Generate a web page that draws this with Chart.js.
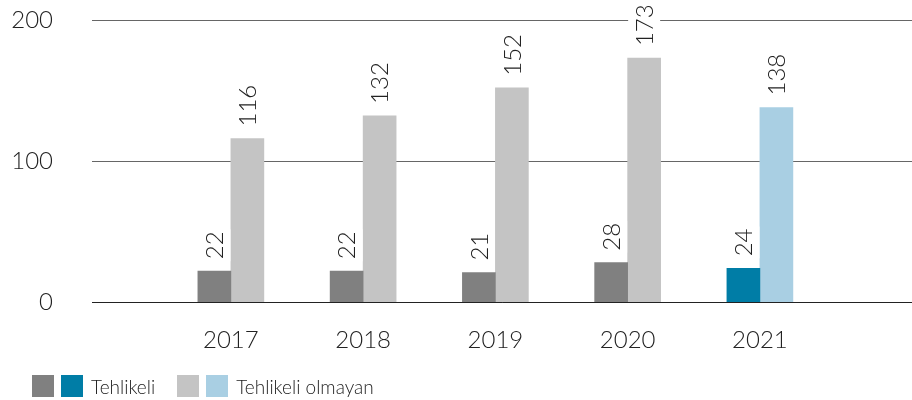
<!DOCTYPE html>
<html>
<head>
<meta charset="utf-8">
<script src="https://cdn.jsdelivr.net/npm/chart.js@4.4.1/dist/chart.umd.min.js"></script>
<style>
	body { margin: 0; background: #fff; }
	#wrap { position: relative; width: 912px; height: 400px; }
	.legend { position: absolute; top: 375px; left: 32px; font-family: Lato, sans-serif; font-weight: 300; font-size: 19px; color: #222; display: flex; align-items: center; height: 22px; }
	.sw { display: inline-block; width: 22px; height: 22px; margin-right: 7px; }
	.lbl { margin-right: 22px; margin-left: 1px; }
</style>
</head>
<body>
<div id="wrap">
	<canvas id="wasteChart" width="912" height="400"></canvas>
	<div class="legend">
		<span class="sw" style="background:#808080"></span><span class="sw" style="background:#007da6"></span><span class="lbl">Tehlikeli</span>
		<span class="sw" style="background:#c4c4c4"></span><span class="sw" style="background:#a9cfe3"></span><span class="lbl">Tehlikeli olmayan</span>
	</div>
</div>

<script>
	// values
	var years = [2017, 2018, 2019, 2020, 2021]
	var hazardous = [22, 22, 21, 28, 24]
	var nonHazardous = [116, 132, 152, 173, 138]
	var yTicks = [0, 100, 200]

	var darkColors = years.map(function (y) { return y == 2021 ? '#007da6' : '#808080' })
	var lightColors = years.map(function (y) { return y == 2021 ? '#a9cfe3' : '#c4c4c4' })

	function toPoints(arr) {
		return arr.map(function (v, i) { return { x: years[i], y: v } })
	}

	// rotated value labels above bars, white box behind so gridline is cut
	var valueLabels = {
		id: 'valueLabels',
		afterDatasetsDraw: function (chart) {
			var ctx = chart.ctx
			ctx.save()
			ctx.font = '300 24px Lato, sans-serif'
			chart.data.datasets.forEach(function (ds, di) {
				var meta = chart.getDatasetMeta(di)
				meta.data.forEach(function (bar, i) {
					var txt = String(ds.data[i].y)
					var w = ctx.measureText(txt).width
					ctx.save()
					ctx.translate(bar.x, bar.y - 12)
					ctx.rotate(-Math.PI / 2)
					ctx.fillStyle = '#fff'
					ctx.fillRect(-2, -16, w + 4, 32)
					ctx.fillStyle = '#222'
					ctx.textAlign = 'left'
					ctx.textBaseline = 'middle'
					ctx.fillText(txt, 0, 1)
					ctx.restore()
				})
			})
			ctx.restore()
		}
	}

	var cfg = {
		type: 'bar',
		data: {
			datasets: [
				{ label: 'Tehlikeli', data: toPoints(hazardous), backgroundColor: darkColors, barThickness: 33 },
				{ label: 'Tehlikeli olmayan', data: toPoints(nonHazardous), backgroundColor: lightColors, barThickness: 33 }
			]
		},
		options: {
			responsive: false,
			animation: false,
			layout: { padding: { top: 20, right: 0, bottom: 21, left: 0 } },
			plugins: { legend: { display: false }, tooltip: { enabled: false } },
			scales: {
				x: {
					type: 'linear',
					min: 2015.95,
					max: 2022.15,
					offset: false,
					grid: { display: false, drawTicks: false },
					border: { display: true, color: '#222', width: 1 },
					afterBuildTicks: function (axis) {
						axis.ticks = years.map(function (y) { return { value: y } })
					},
					ticks: {
						padding: 24,
						color: '#222',
						font: { family: 'Lato, sans-serif', size: 24, weight: 300 },
						callback: function (v) { return String(v) }
					}
				},
				y: {
					min: 0,
					max: 200,
					afterBuildTicks: function (axis) {
						axis.ticks = yTicks.map(function (v) { return { value: v } })
					},
					afterFit: function (axis) {
						axis.width = 92
						axis.paddingTop = 14
						axis.paddingBottom = 14
					},
					grid: { color: '#666', lineWidth: 1, drawTicks: false },
					border: { display: false },
					ticks: {
						padding: 39,
						color: '#222',
						font: { family: 'Lato, sans-serif', size: 24, weight: 300 }
					}
				}
			}
		},
		plugins: [valueLabels]
	}

	var wasteChart = new Chart(document.getElementById('wasteChart'), cfg)
</script>
</body>
</html>
